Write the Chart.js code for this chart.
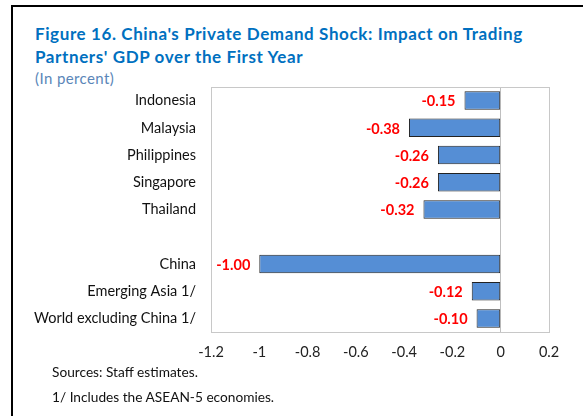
<!DOCTYPE html>
<html>
<head>
<meta charset="utf-8">
<script src="https://cdn.jsdelivr.net/npm/chart.js@4.4.1/dist/chart.umd.min.js"></script>
<style>
  body { margin: 0; background: #fff; font-family: Lato, "Open Sans", sans-serif; }
  #wrap { position: relative; width: 583px; height: 416px; overflow: hidden; }
  #frame { position: absolute; left: 11px; top: 5px; width: 600px; height: 430px; border: 2px solid #000; box-sizing: border-box; }
  #title { position: absolute; left: 35px; top: 22px; color: #0070C0; font-weight: bold; font-size: 17px; letter-spacing: 0.6px; line-height: 23px; }
  #sub { position: absolute; left: 35px; top: 69px; color: #5a86b8; font-size: 15px; letter-spacing: 0.4px; }
  .note { position: absolute; left: 52px; font-size: 13.7px; color: #111; line-height: 16px; }
  canvas { position: absolute; left: 0; top: 0; }
</style>
</head>
<body>
<div id="wrap">
  <div id="frame"></div>
  <div id="title">Figure 16. China's Private Demand Shock: Impact on Trading<br>Partners' GDP over the First Year</div>
  <div id="sub">(In percent)</div>
  <canvas id="impactChart" width="583" height="416"></canvas>
  <div class="note" style="top:364px">Sources: Staff estimates.</div>
  <div class="note" style="top:389px">1/ Includes the ASEAN-5 economies.</div>
</div>
<script>

var categories = ["Indonesia", "Malaysia", "Philippines", "Singapore", "Thailand", "", "China", "Emerging Asia 1/", "World excluding China 1/"];
var impact = [-0.15, -0.38, -0.26, -0.26, -0.32, null, -1.00, -0.12, -0.10];
var xTickLabels = ["-1.2", "-1", "-0.8", "-0.6", "-0.4", "-0.2", "0", "0.2"];

// red value labels drawn left of each bar end
var valueLabels = {
  id: 'valueLabels',
  afterDatasetsDraw: function(chart){
    var ctx = chart.ctx;
    var meta = chart.getDatasetMeta(0);
    ctx.save();
    ctx.font = 'bold 14.5px Lato, sans-serif';
    ctx.fillStyle = '#ff0000';
    ctx.textAlign = 'right';
    ctx.textBaseline = 'middle';
    meta.data.forEach(function(bar, i){
      if (impact[i] === null) return;
      ctx.fillText(impact[i].toFixed(2), bar.x - 9, bar.y + 1);
    });
    ctx.restore();
  }
};

// thin gray box round the plot area
var plotBox = {
  id: 'plotBox',
  beforeDatasetsDraw: function(chart){
    var a = chart.chartArea;
    var ctx = chart.ctx;
    ctx.save();
    ctx.strokeStyle = '#c8c8c8';
    ctx.lineWidth = 1;
    ctx.strokeRect(a.left + 0.5, a.top + 0.5, a.right - a.left, a.bottom - a.top);
    ctx.restore();
  }
};

function init(){
  var ctx = document.getElementById('impactChart').getContext('2d');
  var chart = new Chart(ctx, {
    type: 'bar',
    data: {
      labels: categories,
      datasets: [{
        data: impact,
        backgroundColor: '#558ed5',
        borderColor: '#222222',
        borderWidth: 1,
        borderSkipped: false,
        barPercentage: 0.68,
        categoryPercentage: 1
      }]
    },
    options: {
      indexAxis: 'y',
      responsive: false,
      animation: false,
      layout: { padding: { top: 87, right: 34, left: 0, bottom: 0 } },
      plugins: { legend: { display: false }, tooltip: { enabled: false } },
      scales: {
        x: {
          min: -1.2, max: 0.2,
          ticks: {
            stepSize: 0.2,
            padding: 12,
            color: '#222',
            font: { family: 'Lato, sans-serif', size: 14.5 },
            callback: function(value, index){ return xTickLabels[index]; }
          },
          grid: {
            drawTicks: false,
            color: function(c){ return (c.tick && Math.abs(c.tick.value) < 1e-9) ? '#bfbfbf' : 'rgba(0,0,0,0)'; }
          },
          border: { display: false },
          afterFit: function(scale){ scale.height = 84; }
        },
        y: {
          ticks: {
            padding: 15,
            color: '#111',
            font: { family: 'Lato, sans-serif', size: 14.5 },
            autoSkip: false
          },
          grid: { display: false, drawTicks: false },
          border: { display: false },
          afterFit: function(scale){ scale.width = 211; }
        }
      }
    },
    plugins: [plotBox, valueLabels]
  });
}

init();
</script>
</body>
</html>
